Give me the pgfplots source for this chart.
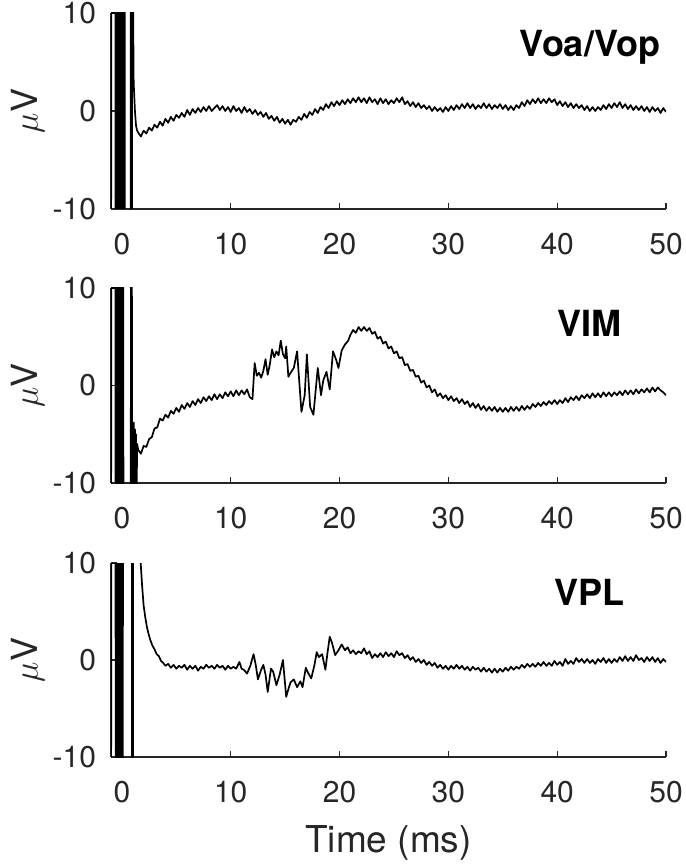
\documentclass[border=0pt]{standalone}
\usepackage{fontspec}
\setmainfont{TeX Gyre Heros}
\usepackage{pgfplots}
\pgfplotsset{compat=1.18}

\pgfplotsset{
  eeg/.style={
    scale only axis, width=277.5pt,
    xmin=-1, xmax=50, ymin=-10, ymax=10,
    xtick={0,10,...,50}, ytick={-10,0,10},
    axis x line*=bottom, axis y line*=left,
    axis line style={-, draw=black!85, line width=0.6pt},
    tick style={black!85, line width=0.6pt},
    tick align=inside, major tick length=3pt,
    /pgf/number format/assume math mode=true,
    ticklabel style={font=\fontsize{15}{18}\selectfont, black!85},
    xticklabel style={yshift=-8.5pt},
    yticklabel style={xshift=-4pt},
    ylabel={$\mu$V},
    ylabel style={font=\fontsize{18}{21}\selectfont, black!85, at={(axis description cs:-0.150,0.5)}, anchor=center},
    clip=true,
  },
  trace/.style={black, line width=0.85pt, line join=round},
}
\tikzset{ttl/.style={font=\fontsize{18}{20}\selectfont\bfseries, anchor=center}}

\begin{document}
\begin{tikzpicture}
\path[use as bounding box] (0,0) rectangle (342.5pt,-433pt);

% Voa/Vop
\begin{axis}[eeg, height=98pt, at={(55.5pt,-104.5pt)}, anchor=south west]
\addplot[trace] coordinates {
(-1.0,-50)(-0.98,10)(-0.6,10)(-0.58,-50)(-0.45,-50)(-0.425,50)(-0.4,-50)(-0.375,50)(-0.35,-50)(-0.325,50)
(-0.3,-50)(-0.275,50)(-0.25,-50)(-0.225,50)(-0.2,-50)(-0.175,50)(-0.15,-50)(-0.125,50)(-0.1,-50)(-0.075,50)
(-0.05,-50)(-0.025,50)(0.0,-50)(0.025,50)(0.05,-50)(0.075,50)(0.1,-50)(0.125,50)(0.15,-50)(0.175,50)
(0.2,-50)(0.225,50)(0.25,-50)(0.275,50)(0.8,50)(0.84,-50)(0.88,50)(0.92,-50)(0.96,50)(1.0,3)(1.03,50)
(1.06,4)(1.1,2.5)(1.2,0)(1.3,-1.5)(1.4,-2.0)
(1.5,-2.2)(1.75,-2.6)(2.0,-2.0)(2.25,-2.3)(2.5,-1.7)(2.75,-2.0)(3.0,-1.4)(3.25,-1.7)(3.5,-1.1)(3.75,-1.5)
(4.0,-0.8)(4.25,-1.2)(4.5,-0.6)(4.75,-1.0)(5.0,-0.4)(5.25,-0.7)(5.5,-0.2)(5.75,-0.6)(6.0,0.1)(6.25,-0.4)
(6.5,0.2)(6.75,-0.2)(7.0,0.3)(7.25,-0.1)(7.5,0.4)(7.75,0.0)(8.0,0.5)(8.25,0.0)(8.5,0.3)(8.75,0.6)
(9.0,0.1)(9.25,0.5)(9.5,0.0)(9.75,0.4)(10.0,-0.1)(10.25,0.5)(10.5,0.0)(10.75,0.3)(11.0,-0.2)(11.25,0.4)
(11.5,-0.1)(11.75,0.2)(12.0,-0.3)(12.25,0.1)(12.5,-0.4)(12.75,-0.1)(13.0,-0.6)(13.25,-0.2)(13.5,-0.8)(13.75,-0.5)
(14.0,-1.0)(14.25,-0.6)(14.5,-1.2)(14.75,-0.8)(15.0,-1.3)(15.25,-0.9)(15.5,-1.4)(15.75,-0.9)(16.0,-1.1)(16.25,-0.6)
(16.5,-0.9)(16.75,-0.3)(17.0,-0.7)(17.25,-0.1)(17.5,-0.4)(17.75,0.2)(18.0,-0.2)(18.25,0.4)(18.5,0.1)(18.75,0.7)
(19.0,0.3)(19.25,0.9)(19.5,0.5)(19.75,1.0)(20.0,0.6)(20.25,1.1)(20.5,0.7)(20.75,1.2)(21.0,0.8)(21.25,1.3)
(21.5,0.9)(21.75,1.4)(22.0,0.9)(22.25,1.3)(22.5,0.8)(22.75,1.4)(23.0,0.9)(23.25,1.2)(23.5,0.7)(23.75,1.3)
(24.0,0.8)(24.25,1.2)(24.5,0.7)(24.75,1.1)(25.0,0.8)(25.25,1.3)(25.5,0.9)(25.75,1.4)(26.0,0.7)(26.25,1.0)
(26.5,0.5)(26.75,0.9)(27.0,0.4)(27.25,0.8)(27.5,0.3)(27.75,0.6)(28.0,0.2)(28.25,0.5)(28.5,0.0)(28.75,0.4)
(29.0,0.0)(29.25,0.3)(29.5,-0.1)(29.75,0.4)(30.0,0.0)(30.25,0.5)(30.5,0.1)(30.75,0.6)(31.0,0.2)(31.25,0.7)
(31.5,0.3)(31.75,0.8)(32.0,0.3)(32.25,0.7)(32.5,0.2)(32.75,0.6)(33.0,0.3)(33.25,0.8)(33.5,0.3)(33.75,0.7)
(34.0,0.2)(34.25,0.6)(34.5,0.3)(34.75,0.7)(35.0,0.2)(35.25,0.6)(35.5,0.1)(35.75,0.5)(36.0,0.1)(36.25,0.6)
(36.5,0.3)(36.75,0.9)(37.0,0.5)(37.25,1.1)(37.5,0.7)(37.75,1.2)(38.0,0.8)(38.25,1.3)(38.5,0.8)(38.75,1.2)
(39.0,0.8)(39.25,1.3)(39.5,0.9)(39.75,1.2)(40.0,0.6)(40.25,1.0)(40.5,0.5)(40.75,0.9)(41.0,0.4)(41.25,0.8)
(41.5,0.3)(41.75,0.7)(42.0,0.3)(42.25,0.6)(42.5,0.1)(42.75,0.5)(43.0,0.0)(43.25,0.4)(43.5,0.0)(43.75,0.4)
(44.0,0.1)(44.25,0.6)(44.5,0.2)(44.75,0.7)(45.0,0.3)(45.25,0.8)(45.5,0.4)(45.75,0.9)(46.0,0.3)(46.25,0.7)
(46.5,0.2)(46.75,0.6)(47.0,0.1)(47.25,0.5)(47.5,0.1)(47.75,0.5)(48.0,0.0)(48.25,0.4)(48.5,-0.1)(48.75,0.4)
(49.0,0.0)(49.25,0.3)(49.5,-0.2)(49.75,0.3)(50.0,-0.1)
};
\node[ttl] at (rel axis cs:0.863,0.827) {Voa/Vop};
\end{axis}

% VIM
\begin{axis}[eeg, height=97.5pt, at={(55.5pt,-241.5pt)}, anchor=south west]
\addplot[trace] coordinates {
(-1.0,-50)(-0.98,10)(-0.6,10)(-0.58,-50)(-0.45,-50)(-0.425,50)(-0.4,-50)(-0.375,50)(-0.35,-50)(-0.325,50)
(-0.3,-50)(-0.275,50)(-0.25,-50)(-0.225,50)(-0.2,-50)(-0.175,50)(-0.15,-50)(-0.125,50)(-0.1,-50)(-0.075,50)
(-0.05,-50)(-0.025,50)(0.0,-50)(0.025,50)(0.05,-50)(0.075,50)(0.1,-50)(0.125,50)(0.15,-50)
(0.8,-50)(0.85,50)(0.9,50)(0.95,-50)(1.05,-50)(1.1,-3.8)(1.15,-20)(1.2,-4.5)(1.25,-20)
(1.3,-5)(1.35,-12)(1.4,-6)
(1.5,-6.6)(1.75,-7.0)(2.0,-6.2)(2.25,-6.3)(2.5,-5.5)(2.75,-5.3)(3.0,-4.4)(3.25,-4.3)(3.5,-3.4)(3.75,-3.6)
(4.0,-3.0)(4.25,-3.3)(4.5,-2.6)(4.75,-2.9)(5.0,-2.3)(5.25,-2.7)(5.5,-2.0)(5.75,-2.4)(6.0,-1.8)(6.25,-2.2)
(6.5,-1.6)(6.75,-2.0)(7.0,-1.4)(7.25,-1.8)(7.5,-1.2)(7.75,-1.6)(8.0,-1.1)(8.25,-1.5)(8.5,-0.9)(8.75,-1.4)
(9.0,-0.9)(9.25,-1.3)(9.5,-0.7)(9.75,-1.1)(10.0,-0.6)(10.25,-1.1)(10.5,-0.5)(10.75,-1.0)(11.0,-0.5)(11.25,-0.9)
(11.5,-0.4)(11.75,-1.2)(12.0,-1.4)(12.2,2.3)(12.4,1.0)(12.6,1.3)(12.8,0.8)(13.0,1.5)(13.2,2.7)(13.4,1.1)
(13.6,2.2)(13.8,3.7)(14.0,2.9)(14.2,3.5)(14.4,3.1)(14.6,4.6)(14.8,3.2)(15.0,2.8)(15.1,4.0)(15.3,0.9)
(15.5,1.3)(15.8,1.8)(16.1,3.5)(16.5,-2.7)(16.8,-1.0)(17.0,3.2)(17.3,-2.2)(17.6,-3.0)(18.0,1.8)(18.3,-1.0)
(18.5,0.5)(18.8,1.4)(19.1,-0.4)(19.4,3.5)(19.7,2.6)(19.9,1.8)(20.2,3.6)(20.5,4.2)(20.8,4.6)(21.0,5.2)
(21.25,5.7)(21.5,5.4)(21.75,6.0)(22.0,5.6)(22.25,6.0)(22.5,5.6)(22.75,5.9)(23.0,5.3)(23.25,5.5)(23.5,4.8)
(23.75,5.0)(24.0,4.3)(24.25,4.5)(24.5,3.8)(24.75,4.0)(25.0,3.3)(25.25,3.5)(25.5,2.8)(25.75,2.9)(26.0,2.1)
(26.25,2.2)(26.5,1.5)(26.75,1.6)(27.0,0.9)(27.25,1.0)(27.5,0.3)(27.75,0.5)(28.0,-0.2)(28.25,0.0)(28.5,-0.7)
(28.75,-0.4)(29.0,-1.1)(29.25,-0.8)(29.5,-1.3)(29.75,-1.0)(30.0,-1.5)(30.25,-1.1)(30.5,-1.6)(30.75,-1.3)(31.0,-1.8)
(31.25,-1.4)(31.5,-1.9)(31.75,-1.6)(32.0,-2.2)(32.25,-1.8)(32.5,-2.3)(32.75,-1.9)(33.0,-2.5)(33.25,-2.1)(33.5,-2.6)
(33.75,-2.2)(34.0,-2.6)(34.25,-2.2)(34.5,-2.7)(34.75,-2.3)(35.0,-2.7)(35.25,-2.3)(35.5,-2.7)(35.75,-2.2)(36.0,-2.6)
(36.25,-2.2)(36.5,-2.6)(36.75,-2.1)(37.0,-2.5)(37.25,-2.1)(37.5,-2.4)(37.75,-1.9)(38.0,-2.2)(38.25,-1.8)(38.5,-2.1)
(38.75,-1.7)(39.0,-2.0)(39.25,-1.6)(39.5,-1.9)(39.75,-1.5)(40.0,-1.9)(40.25,-1.5)(40.5,-1.8)(40.75,-1.3)(41.0,-1.7)
(41.25,-1.2)(41.5,-1.5)(41.75,-1.1)(42.0,-1.5)(42.25,-1.0)(42.5,-1.3)(42.75,-0.9)(43.0,-1.3)(43.25,-0.8)(43.5,-1.2)
(43.75,-0.8)(44.0,-1.2)(44.25,-0.7)(44.5,-1.1)(44.75,-0.7)(45.0,-1.1)(45.25,-0.7)(45.5,-1.0)(45.75,-0.6)(46.0,-1.0)
(46.25,-0.5)(46.5,-0.9)(46.75,-0.5)(47.0,-0.9)(47.25,-0.4)(47.5,-0.8)(47.75,-0.4)(48.0,-0.7)(48.25,-0.3)(48.5,-0.7)
(48.75,-0.2)(49.0,-0.6)(49.25,-0.2)(49.5,-0.5)(49.75,-0.7)(50.0,-1.0)
};
\node[ttl] at (rel axis cs:0.863,0.82) {VIM};
\end{axis}

% VPL
\begin{axis}[eeg, height=97pt, at={(55.5pt,-378.5pt)}, anchor=south west,
  xlabel={Time (ms)},
  xlabel style={font=\fontsize{18.5}{21}\selectfont, black!85, at={(axis description cs:0.5,-0.443)}, anchor=center}]
\addplot[trace] coordinates {
(-1.0,-50)(-0.98,10)(-0.58,10)(-0.56,-50)(-0.42,-50)(-0.395,50)(-0.37,-50)(-0.345,50)(-0.32,-50)(-0.295,50)
(-0.27,-50)(-0.245,50)(-0.22,-50)(-0.195,50)(-0.17,-50)(-0.145,50)(-0.12,-50)(-0.095,50)(-0.07,-50)(-0.045,50)
(-0.02,-50)(0.005,50)(0.03,-50)(0.055,50)(0.08,-50)(0.105,50)(0.9,50)(0.95,-50)
(1.0,-50)(1.05,50)(1.5,50)
(1.7,10.5)(1.85,7.8)(2.0,5.6)(2.15,4.4)(2.3,3.4)(2.45,2.7)(2.6,2.1)(2.8,1.5)(3.0,1.1)(3.2,0.6)
(3.4,0.4)(3.6,-0.1)(3.8,-0.3)(4.0,-0.6)(4.25,-0.4)(4.5,-0.8)(4.75,-0.5)(5.0,-0.9)(5.25,-0.6)(5.5,-0.8)
(5.75,-0.5)(6.0,-1.0)(6.25,-0.6)(6.5,-0.9)(6.75,-0.6)(7.0,-1.1)(7.25,-0.7)(7.5,-0.9)(7.75,-0.5)(8.0,-0.8)
(8.25,-0.6)(8.5,-0.9)(8.75,-0.5)(9.0,-0.8)(9.25,-0.6)(9.5,-1.0)(9.75,-0.6)(10.0,-0.9)(10.25,-0.7)(10.5,-0.9)
(10.8,-0.2)(11.0,-0.9)(11.2,-1.0)(11.5,-1.4)(11.8,-0.6)(12.1,0.6)(12.3,-0.5)(12.5,-2.0)(12.8,-1.0)(13.0,-0.5)
(13.2,-1.5)(13.4,-3.3)(13.7,-0.9)(13.9,-1.2)(14.2,-2.6)(14.5,-1.5)(14.8,0.0)(15.1,-3.8)(15.3,-3.0)(15.5,-2.3)
(15.8,-2.0)(16.1,-2.8)(16.4,-2.2)(16.6,-2.8)(16.9,-0.8)(17.1,-1.3)(17.4,-1.9)(17.7,-0.5)(17.9,0.8)(18.1,0.3)
(18.4,0.6)(18.7,-1.0)(18.9,0.8)(19.1,2.4)(19.3,1.8)(19.6,0.5)(19.9,1.0)(20.2,1.6)(20.5,1.0)(20.75,1.3)
(21.0,0.7)(21.25,1.0)(21.5,0.6)(21.75,0.9)(22.0,0.7)(22.25,1.2)(22.5,0.6)(22.75,0.9)(23.0,0.2)(23.25,0.6)
(23.5,0.3)(23.75,0.7)(24.0,0.3)(24.25,0.8)(24.5,0.4)(24.75,0.7)(25.0,0.3)(25.25,0.9)(25.5,0.5)(25.75,0.7)
(26.0,0.2)(26.25,0.5)(26.5,0.0)(26.75,0.3)(27.0,-0.2)(27.25,0.1)(27.5,-0.3)(27.75,0.0)(28.0,-0.5)(28.25,-0.2)
(28.5,-0.6)(28.75,-0.3)(29.0,-0.8)(29.25,-0.5)(29.5,-0.9)(29.75,-0.6)(30.0,-1.0)(30.25,-0.6)(30.5,-0.9)(30.75,-0.5)
(31.0,-0.9)(31.25,-0.6)(31.5,-1.0)(31.75,-0.7)(32.0,-1.1)(32.25,-0.7)(32.5,-1.0)(32.75,-0.8)(33.0,-1.2)(33.25,-0.8)
(33.5,-1.2)(33.75,-0.9)(34.0,-1.3)(34.25,-0.9)(34.5,-1.3)(34.75,-0.9)(35.0,-1.2)(35.25,-0.8)(35.5,-1.1)(35.75,-0.7)
(36.0,-1.0)(36.25,-0.7)(36.5,-0.9)(36.75,-0.5)(37.0,-0.8)(37.25,-0.4)(37.5,-0.7)(37.75,-0.4)(38.0,-0.7)(38.25,-0.3)
(38.5,-0.6)(38.75,-0.2)(39.0,-0.6)(39.25,-0.3)(39.5,-0.6)(39.75,-0.1)(40.0,-0.5)(40.25,-0.2)(40.5,-0.6)(40.75,0.1)
(41.0,-0.4)(41.25,-0.1)(41.5,-0.4)(41.75,0.2)(42.0,-0.2)(42.25,0.1)(42.5,-0.3)(42.75,0.1)(43.0,-0.3)(43.25,0.0)
(43.5,-0.4)(43.75,0.1)(44.0,-0.2)(44.25,0.2)(44.5,-0.3)(44.75,0.1)(45.0,-0.3)(45.25,0.1)(45.5,-0.2)(45.75,0.3)
(46.0,-0.1)(46.25,0.4)(46.5,-0.1)(46.75,0.3)(47.0,-0.1)(47.25,0.5)(47.5,0.0)(47.75,0.2)(48.0,-0.2)(48.25,0.3)
(48.5,-0.1)(48.75,0.3)(49.0,-0.2)(49.25,0.2)(49.5,-0.3)(49.75,0.1)(50.0,-0.2)
};
\node[ttl] at (rel axis cs:0.863,0.85) {VPL};
\end{axis}
\end{tikzpicture}
\end{document}
